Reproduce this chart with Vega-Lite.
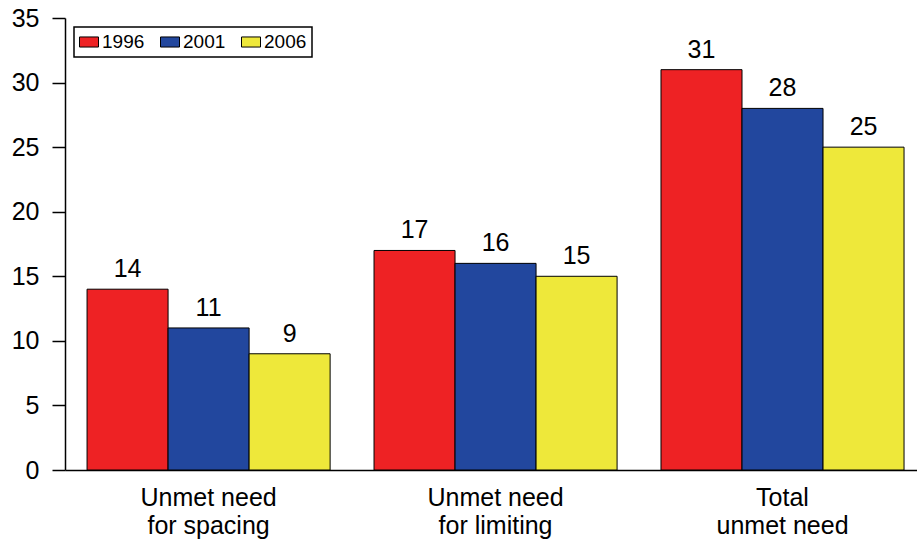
{
  "$schema": "https://vega.github.io/schema/vega-lite/v6.json",
  "width": 852,
  "height": 452,
  "autosize": {"type": "none"},
  "padding": {"left": 65, "top": 18, "right": 0, "bottom": 77},
  "background": "white",
  "config": {
    "view": {"stroke": null},
    "font": "Liberation Sans",
    "axis": {"domainColor": "black", "tickColor": "black", "labelColor": "black", "grid": false}
  },
  "data": {
    "values": [
      {"cat": "Unmet need|for spacing", "year": "1996", "value": 14},
      {"cat": "Unmet need|for spacing", "year": "2001", "value": 11},
      {"cat": "Unmet need|for spacing", "year": "2006", "value": 9},
      {"cat": "Unmet need|for limiting", "year": "1996", "value": 17},
      {"cat": "Unmet need|for limiting", "year": "2001", "value": 16},
      {"cat": "Unmet need|for limiting", "year": "2006", "value": 15},
      {"cat": "Total|unmet need", "year": "1996", "value": 31},
      {"cat": "Total|unmet need", "year": "2001", "value": 28},
      {"cat": "Total|unmet need", "year": "2006", "value": 25}
    ]
  },
  "encoding": {
    "x": {
      "field": "cat", "type": "nominal", "sort": null, "title": null,
      "scale": {"paddingInner": 0.153, "paddingOuter": 0.061, "align": 0.63},
      "axis": {"labelAngle": 0, "ticks": false, "labelFontSize": 25, "labelExpr": "split(datum.label, '|')", "labelLineHeight": 28, "labelPadding": 15, "domainWidth": 1.5}
    },
    "xOffset": {"field": "year", "type": "nominal", "sort": null},
    "y": {
      "field": "value", "type": "quantitative", "title": null,
      "scale": {"domain": [0, 35], "nice": false},
      "axis": {"values": [0, 5, 10, 15, 20, 25, 30, 35], "labelFontSize": 25, "tickSize": 13, "labelPadding": 13, "domainWidth": 1.5, "tickWidth": 1.5}
    }
  },
  "layer": [
    {
      "mark": {"type": "bar", "stroke": "black", "strokeWidth": 1},
      "encoding": {
        "color": {
          "field": "year", "type": "nominal",
          "scale": {"domain": ["1996", "2001", "2006"], "range": ["#EE2224", "#22479E", "#EEE83A"]},
          "legend": {
            "orient": "none", "legendX": 9, "legendY": 9, "direction": "horizontal", "title": null,
            "strokeColor": "black", "padding": 5, "fillColor": "white",
            "labelFontSize": 19, "labelColor": "black", "labelOffset": 3,
            "symbolType": "M-1,-0.53H1V0.53H-1Z", "symbolSize": 361, "symbolStrokeColor": "black", "symbolStrokeWidth": 1,
            "columnPadding": 13,
            "encode": {"legend": {"update": {"strokeWidth": {"value": 1.5}}}}
          }
        }
      }
    },
    {
      "mark": {"type": "text", "baseline": "alphabetic", "dy": -12, "fontSize": 25, "color": "black"},
      "encoding": {"text": {"field": "value", "type": "quantitative"}}
    }
  ]
}
